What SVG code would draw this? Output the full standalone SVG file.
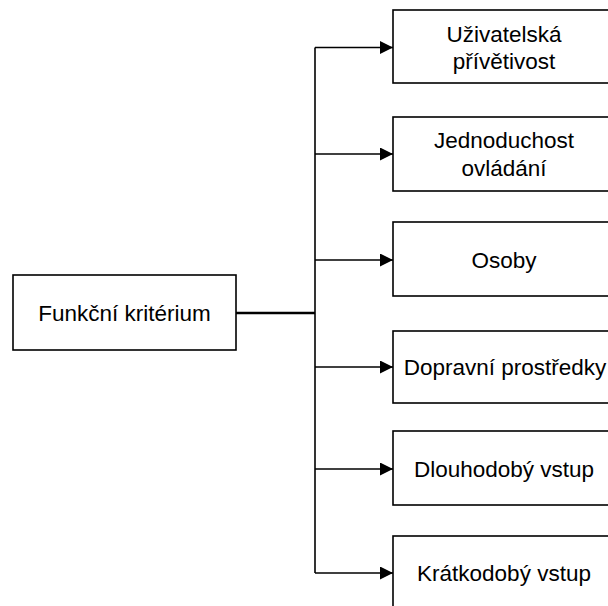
<svg xmlns="http://www.w3.org/2000/svg" width="608" height="606" viewBox="0 0 608 606">
  <style>
    .box { fill: #ffffff; stroke: #000000; stroke-width: 1.6; }
    .label { font-family: "Liberation Sans", Arial, sans-serif; font-size: 22.5px; fill: #000000; text-anchor: middle; }
    .link { fill: none; stroke: #000000; stroke-width: 1.6; }
    .trunk { fill: none; stroke: #000000; stroke-width: 2.6; }
  </style>
  <defs>
    <marker id="arrow" markerUnits="userSpaceOnUse" markerWidth="14" markerHeight="14" refX="13" refY="6.5" orient="auto">
      <path d="M0,0 L13,6.5 L0,13 Z" fill="#000000"/>
    </marker>
  </defs>
  <rect width="608" height="606" fill="#ffffff"/>

  <g id="connectors">
    <line class="trunk" x1="236" y1="313" x2="315" y2="313"/>
    <line class="link" x1="315" y1="47.5" x2="315" y2="573"/>
    <line class="link" x1="315" y1="47.5" x2="393" y2="47.5" marker-end="url(#arrow)"/>
    <line class="link" x1="315" y1="154" x2="393" y2="154" marker-end="url(#arrow)"/>
    <line class="link" x1="315" y1="260" x2="393" y2="260" marker-end="url(#arrow)"/>
    <line class="link" x1="315" y1="367" x2="393" y2="367" marker-end="url(#arrow)"/>
    <line class="link" x1="315" y1="469" x2="393" y2="469" marker-end="url(#arrow)"/>
    <line class="link" x1="315" y1="573" x2="393" y2="573" marker-end="url(#arrow)"/>
  </g>

  <g id="funkcni-kriterium">
    <rect class="box" x="13" y="275" width="223" height="75"/>
    <text class="label" x="124.5" y="321">Funkční kritérium</text>
  </g>

  <g id="uzivatelska-privetivost">
    <rect class="box" x="393" y="10" width="224" height="73"/>
    <text class="label" x="504" y="42">Uživatelská</text>
    <text class="label" x="504" y="69">přívětivost</text>
  </g>

  <g id="jednoduchost-ovladani">
    <rect class="box" x="393" y="117" width="224" height="74"/>
    <text class="label" x="504" y="148">Jednoduchost</text>
    <text class="label" x="504" y="176">ovládání</text>
  </g>

  <g id="osoby">
    <rect class="box" x="393" y="222" width="224" height="74"/>
    <text class="label" x="504" y="268">Osoby</text>
  </g>

  <g id="dopravni-prostredky">
    <rect class="box" x="393" y="331" width="224" height="72"/>
    <text class="label" x="505" y="375">Dopravní prostředky</text>
  </g>

  <g id="dlouhodoby-vstup">
    <rect class="box" x="393" y="431" width="224" height="74"/>
    <text class="label" x="504" y="477">Dlouhodobý vstup</text>
  </g>

  <g id="kratkodoby-vstup">
    <rect class="box" x="393" y="536" width="224" height="74"/>
    <text class="label" x="504" y="581">Krátkodobý vstup</text>
  </g>
</svg>
